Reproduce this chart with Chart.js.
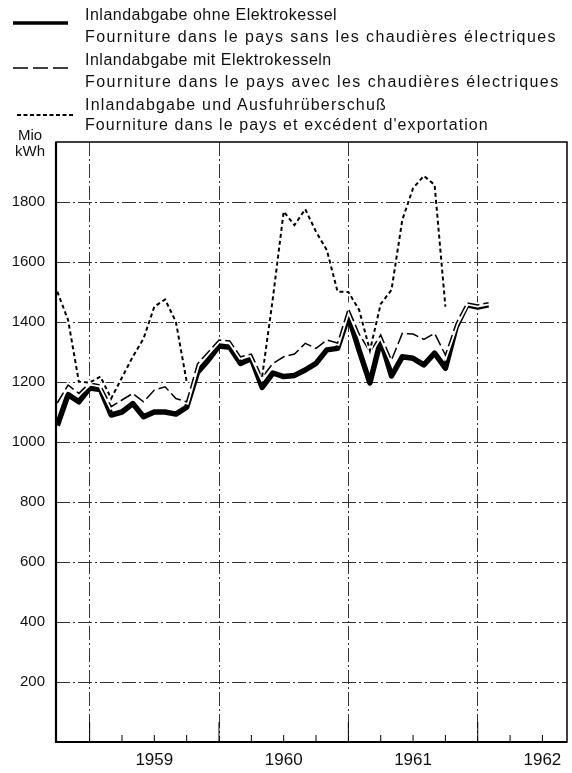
<!DOCTYPE html>
<html>
<head>
<meta charset="utf-8">
<script src="https://cdn.jsdelivr.net/npm/chart.js@4.4.1/dist/chart.umd.min.js"></script>
<style>
  html, body { margin: 0; padding: 0; background: #fff; }
  #wrap { position: relative; width: 572px; height: 773px; }
  #chart { position: absolute; left: 0; top: 0; }
  .txt { position: absolute; left: 85px; font-family: "Liberation Sans", Arial, sans-serif;
         font-size: 16px; line-height: 18px; color: #111; white-space: nowrap; letter-spacing: 1.2px; }
  .unit { position: absolute; font-family: "Liberation Sans", Arial, sans-serif; font-size: 15px;
          line-height: 16px; color: #111; text-align: center; width: 40px; left: 10px; }
  svg { position: absolute; left: 0; top: 0; }
</style>
</head>
<body>
<div id="wrap">
  <canvas id="chart" width="572" height="773"></canvas>
  <svg width="100" height="130">
    <line x1="13" y1="23" x2="68" y2="23" stroke="#000" stroke-width="3.5"/>
    <line x1="13" y1="68" x2="68" y2="68" stroke="#000" stroke-width="1.5" stroke-dasharray="15 5"/>
    <line x1="17" y1="115" x2="75" y2="115" stroke="#000" stroke-width="1.8" stroke-dasharray="4 2.5"/>
  </svg>
  <div class="txt" style="top:6px; letter-spacing:0.5px">Inlandabgabe ohne Elektrokessel</div>
  <div class="txt" style="top:28px; letter-spacing:1.4px">Fourniture dans le pays sans les chaudières électriques</div>
  <div class="txt" style="top:51px; letter-spacing:0.5px">Inlandabgabe mit Elektrokesseln</div>
  <div class="txt" style="top:73px; letter-spacing:1.45px">Fourniture dans le pays avec les chaudières électriques</div>
  <div class="txt" style="top:96px; letter-spacing:1.2px">Inlandabgabe und Ausfuhrüberschuß</div>
  <div class="txt" style="top:116px; letter-spacing:1.1px">Fourniture dans le pays et excédent d'exportation</div>
  <div class="unit" style="top:127px">Mio<br>kWh</div>
</div>
<script>
// Monatswerte ab Oktober 1958 (Mio kWh)
const firstMonth = 1958.75;

// Inlandabgabe ohne Elektrokessel
const ohneKessel = [1055, 1158, 1134,
  1180, 1175, 1090, 1100, 1128, 1084, 1100, 1100, 1093, 1116, 1232, 1273,
  1320, 1316, 1262, 1278, 1182, 1230, 1218, 1222, 1240, 1262, 1307, 1312,
  1420, 1305, 1197, 1340, 1220, 1284, 1279, 1257, 1296, 1246, 1384, 1457,
  1450, 1457];

// Inlandabgabe mit Elektrokesseln
const mitKessel = [1130, 1190, 1162,
  1197, 1190, 1118, 1140, 1162, 1134, 1173, 1184, 1145, 1134, 1260, 1300,
  1340, 1337, 1284, 1293, 1215, 1262, 1284, 1293, 1329, 1312, 1340, 1330,
  1445, 1360, 1300, 1357, 1273, 1362, 1360, 1342, 1362, 1290, 1395, 1464,
  1457, 1464];

// Inlandabgabe und Ausfuhrüberschuß (null = fällt mit Inlandabgabe zusammen)
const mitAusfuhr = [1501, 1407, 1201,
  1198, 1218, 1145, 1215, 1284, 1345, 1451, 1475, 1401, 1201, null, null,
  null, null, null, null, 1218, 1480, 1768, 1723, 1776, 1701, 1640, 1501,
  1500, 1440, 1305, 1460, 1507, 1740, 1846, 1887, 1857, 1451];

// Achsen
const yearLines = [1959, 1960, 1961, 1962];
const yearLabels = ['1959', '1960', '1961', '1962'];
const quarterTicks = [1959.25, 1959.5, 1959.75, 1960.25, 1960.5, 1960.75,
  1961.25, 1961.5, 1961.75, 1962.25, 1962.5];
const yTicks = [0, 200, 400, 600, 800, 1000, 1200, 1400, 1600, 1800, 2000];

function toPoints(values) {
  return values.map(function(v, i) {
    return { x: firstMonth + i / 12, y: v };
  });
}

// Rahmen und Viertelsjahr-Striche
const framePlugin = {
  id: 'frame',
  afterDraw: function(chart) {
    const ctx = chart.ctx;
    const a = chart.chartArea;
    const xs = chart.scales.x;
    ctx.save();
    ctx.strokeStyle = '#000';
    ctx.setLineDash([]);
    ctx.lineWidth = 1.5;
    ctx.strokeRect(a.left, a.top, a.right - a.left, a.bottom - a.top);
    ctx.lineWidth = 2.2;
    ctx.beginPath();
    ctx.moveTo(a.left, a.top);
    ctx.lineTo(a.left, a.bottom);
    ctx.lineTo(a.right, a.bottom);
    ctx.stroke();
    ctx.lineWidth = 1;
    quarterTicks.forEach(function(q) {
      const px = xs.getPixelForValue(q);
      ctx.beginPath();
      ctx.moveTo(px, a.bottom);
      ctx.lineTo(px, a.bottom - 7);
      ctx.stroke();
    });
    yearLines.forEach(function(q) {
      const px = xs.getPixelForValue(q);
      ctx.beginPath();
      ctx.moveTo(px, a.bottom);
      ctx.lineTo(px, a.bottom - 20);
      ctx.stroke();
    });
    ctx.restore();
  }
};

const gridDash = [14, 3, 2, 3];

new Chart(document.getElementById('chart'), {
  type: 'line',
  data: {
    datasets: [
      {
        label: 'Inlandabgabe und Ausfuhrüberschuß',
        data: toPoints(mitAusfuhr),
        borderColor: '#000',
        borderWidth: 2,
        borderDash: [4, 3],
        pointRadius: 0,
        spanGaps: false,
        order: 0
      },
      {
        label: 'halo3',
        data: toPoints(mitAusfuhr),
        borderColor: '#fff',
        borderWidth: 4,
        pointRadius: 0,
        order: 1
      },
      {
        label: 'Inlandabgabe mit Elektrokesseln',
        data: toPoints(mitKessel),
        borderColor: '#000',
        borderWidth: 1.5,
        borderDash: [12, 4],
        pointRadius: 0,
        order: 2
      },
      {
        label: 'halo2',
        data: toPoints(mitKessel),
        borderColor: '#fff',
        borderWidth: 5,
        pointRadius: 0,
        order: 3
      },
      {
        label: 'Inlandabgabe ohne Elektrokessel',
        data: toPoints(ohneKessel),
        borderColor: '#000',
        borderWidth: 5.5,
        pointRadius: 0,
        borderJoinStyle: 'round',
        order: 4
      }
    ]
  },
  options: {
    responsive: false,
    animation: false,
    events: [],
    layout: { padding: { top: 142, right: 5, left: 0, bottom: 0 } },
    plugins: { legend: { display: false }, tooltip: { enabled: false } },
    scales: {
      x: {
        type: 'linear',
        min: 1958.74,
        max: 1962.69,
        afterBuildTicks: function(scale) {
          const t = [];
          yearLines.forEach(function(y) {
            t.push({ value: y });
            t.push({ value: y + 0.5 });
          });
          scale.ticks = t;
        },
        afterFit: function(scale) { scale.height = 31; },
        ticks: {
          autoSkip: false,
          maxRotation: 0,
          padding: 8,
          color: '#111',
          font: { family: '"Liberation Sans", Arial, sans-serif', size: 17 },
          callback: function(value) {
            const i = yearLines.indexOf(value - 0.5);
            return i >= 0 ? yearLabels[i] : '';
          }
        },
        grid: {
          drawTicks: false,
          lineWidth: 1,
          color: function(c) {
            if (!c.tick) return 'rgba(0,0,0,0)';
            return yearLines.indexOf(c.tick.value) >= 0 ? '#333' : 'rgba(0,0,0,0)';
          }
        },
        border: { display: false, dash: gridDash }
      },
      y: {
        min: 0,
        max: 2000,
        afterBuildTicks: function(scale) {
          scale.ticks = yTicks.map(function(v) { return { value: v }; });
        },
        afterFit: function(scale) { scale.width = 56; },
        ticks: {
          padding: 11,
          color: '#111',
          font: { family: '"Liberation Sans", Arial, sans-serif', size: 15 },
          callback: function(value) {
            return (value === 0 || value === 2000) ? '' : String(value);
          }
        },
        grid: {
          drawTicks: false,
          lineWidth: 1,
          color: function(c) {
            if (!c.tick || c.tick.value === 0 || c.tick.value === 2000) return 'rgba(0,0,0,0)';
            return '#333';
          }
        },
        border: { display: false, dash: gridDash }
      }
    }
  },
  plugins: [framePlugin]
});
</script>
</body>
</html>
